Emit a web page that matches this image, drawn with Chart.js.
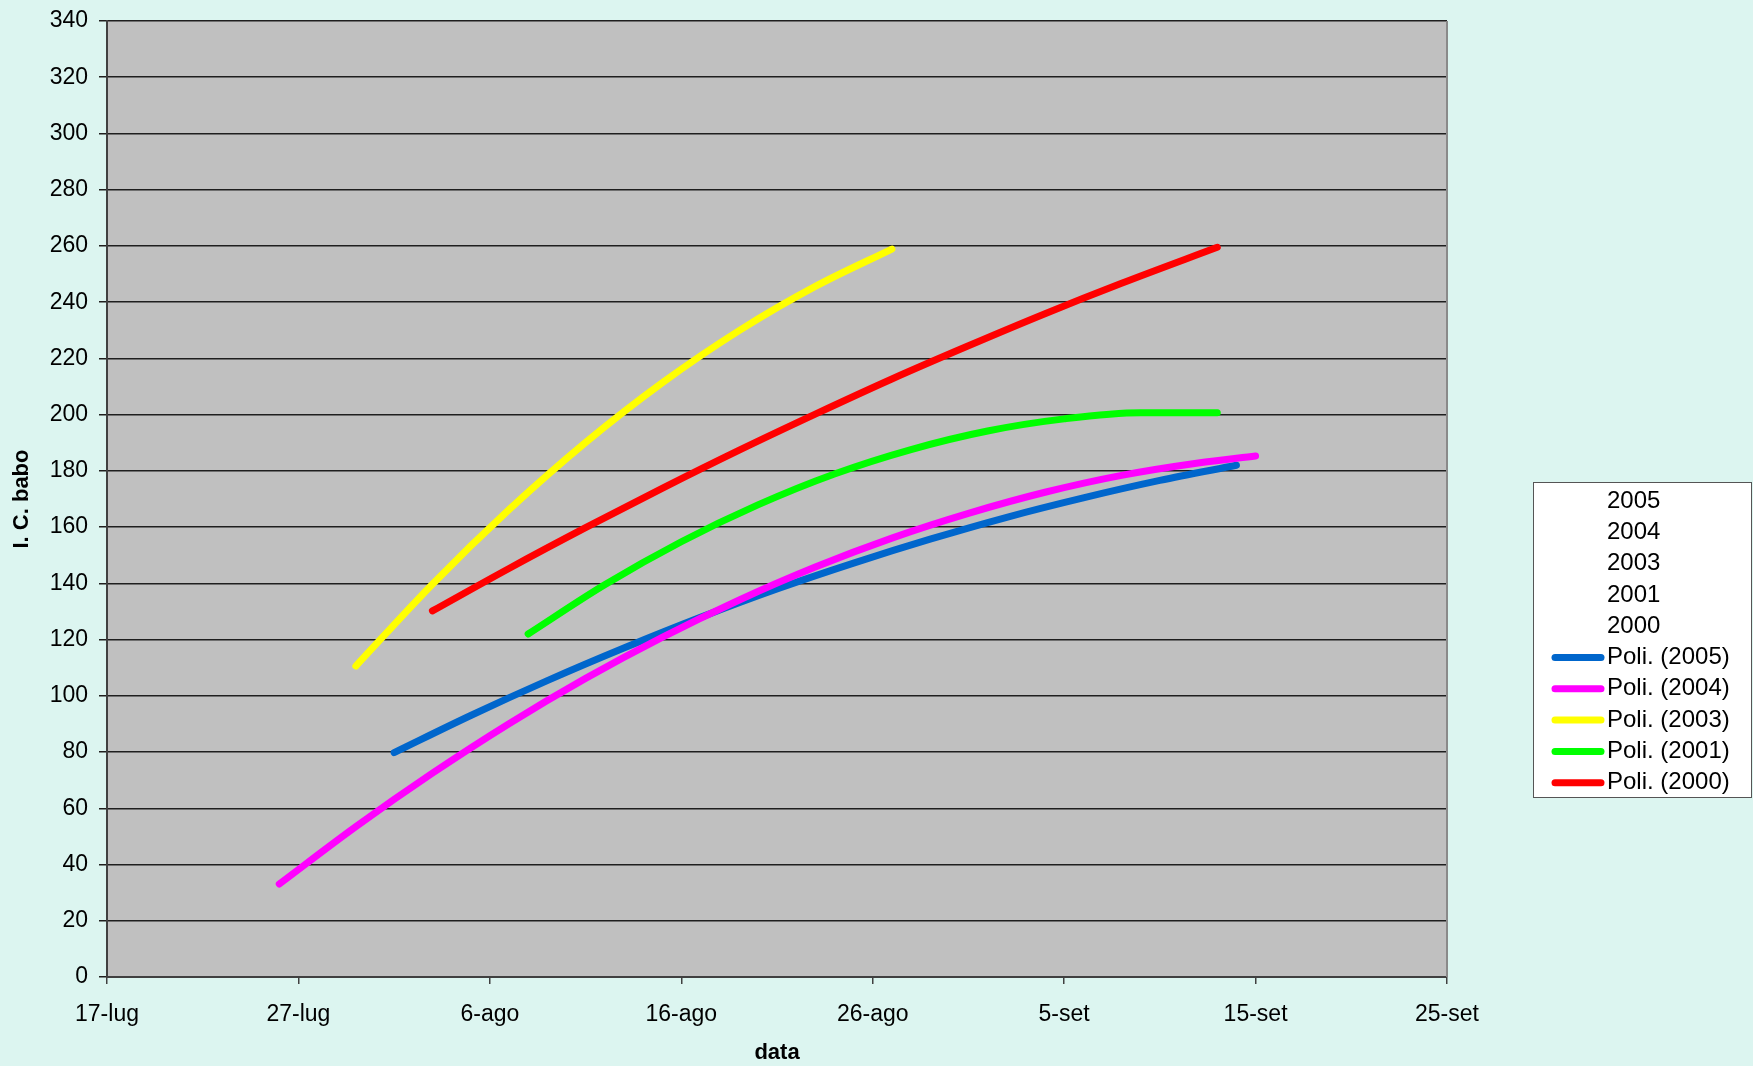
<!DOCTYPE html>
<html lang="it">
<head>
<meta charset="utf-8">
<title>I. C. babo</title>
<script src="https://cdn.jsdelivr.net/npm/chart.js@4/dist/chart.umd.min.js"></script>
<style>
  html, body { margin: 0; padding: 0; background: #DCF5F0; }
  #wrap { width: 1753px; height: 1066px; position: relative; }
  canvas { display: block; }
</style>
</head>
<body>
<div id="wrap"><canvas id="c" width="1753" height="1066"></canvas></div>
<script>
// X axis: days counted from 17 July; labels every 10 days
const dateTicks = ['17-lug', '27-lug', '6-ago', '16-ago', '26-ago', '5-set', '15-set', '25-set'];
const years = ['2005', '2004', '2003', '2001', '2000'];

// Polynomial trend curves (days from 17-lug, I. C. babo value)
const days2005 = [15, 19, 23, 27, 31, 35, 39, 43, 47, 51, 55, 59];
const vals2005 = [79.8, 93.0, 105.4, 117.0, 127.9, 138.0, 147.2, 155.7, 163.5, 170.4, 176.6, 182.0];

const days2004 = [9, 13, 17, 21, 25, 29, 33, 37, 41, 45, 49, 53, 57, 60];
const vals2004 = [33.1, 53.5, 72.5, 90.1, 106.2, 120.8, 134.0, 145.8, 156.1, 164.9, 172.4, 178.4, 182.8, 185.3];

const days2003 = [13, 17, 21, 25, 29, 33, 37, 41];
const vals2003 = [110.6, 139.7, 166.2, 190.1, 211.3, 229.8, 245.6, 258.9];

const days2001 = [22, 26, 30, 34, 38, 42, 46, 50, 54, 58];
const vals2001 = [122.0, 139.5, 154.8, 167.9, 178.9, 187.6, 194.2, 198.5, 200.7, 200.7];

const days2000 = [17, 21, 25, 29, 33, 37, 41, 45, 49, 53, 58];
const vals2000 = [130.2, 145.3, 159.8, 173.8, 187.3, 200.2, 212.7, 224.5, 235.9, 246.7, 259.5];

const colors = ['#0066CC', '#FF00FF', '#FFFF00', '#00FF00', '#FF0000'];
const seriesDays = [days2005, days2004, days2003, days2001, days2000];
const seriesVals = [vals2005, vals2004, vals2003, vals2001, vals2000];

const FONT = '"Liberation Sans", Arial, sans-serif';

const datasets = years.map((y, i) => ({
  label: 'Poli. (' + y + ')',
  data: seriesDays[i].map((d, k) => ({ x: d, y: seriesVals[i][k] })),
  borderColor: colors[i],
  backgroundColor: colors[i],
  borderWidth: 7,
  borderCapStyle: 'round',
  borderJoinStyle: 'round',
  pointRadius: 0,
  pointHoverRadius: 0,
  fill: false,
  cubicInterpolationMode: 'monotone',
  order: 5 - i
}));

// Page background and grey plot area
const backdrop = {
  id: 'backdrop',
  beforeDraw(chart) {
    const { ctx, chartArea: a } = chart;
    ctx.save();
    ctx.fillStyle = '#DCF5F0';
    ctx.fillRect(0, 0, chart.width, chart.height);
    ctx.fillStyle = '#C0C0C0';
    ctx.fillRect(a.left, a.top, a.right - a.left, a.bottom - a.top);
    ctx.restore();
  },
  afterDatasetsDraw(chart) {
    const { ctx, chartArea: a } = chart;
    ctx.save();
    ctx.strokeStyle = '#8A8A8A';
    ctx.lineWidth = 2;
    ctx.beginPath();
    ctx.moveTo(a.right, a.top);
    ctx.lineTo(a.right, a.bottom);
    ctx.stroke();
    ctx.restore();
  }
};

// Boxed legend on the right: data series names, then the trend lines
const boxLegend = {
  id: 'boxLegend',
  afterDraw(chart) {
    const ctx = chart.ctx;
    const x0 = 1533, y0 = 482, w = 219, h = 316;
    ctx.save();
    ctx.fillStyle = '#FFFFFF';
    ctx.fillRect(x0, y0, w, h);
    ctx.strokeStyle = '#555555';
    ctx.lineWidth = 1;
    ctx.strokeRect(x0 + 0.5, y0 + 0.5, w - 1, h - 1);
    ctx.font = '24px ' + FONT;
    ctx.fillStyle = '#000000';
    ctx.textBaseline = 'middle';
    ctx.textAlign = 'left';
    const step = 31.3;
    let y = y0 + 19;
    years.forEach(lbl => {
      ctx.fillText(lbl, 1607, y);
      y += step;
    });
    chart.data.datasets.forEach(ds => {
      ctx.strokeStyle = ds.borderColor;
      ctx.lineWidth = 7;
      ctx.lineCap = 'round';
      ctx.beginPath();
      ctx.moveTo(1555, y);
      ctx.lineTo(1601, y);
      ctx.stroke();
      ctx.fillText(ds.label, 1607, y);
      y += step;
    });
    ctx.restore();
  }
};

new Chart(document.getElementById('c'), {
  type: 'line',
  data: { datasets },
  plugins: [backdrop, boxLegend],
  options: {
    responsive: false,
    animation: false,
    events: [],
    layout: { padding: { left: 0, top: 21, right: 306, bottom: 0 } },
    plugins: { legend: { display: false }, tooltip: { enabled: false } },
    scales: {
      x: {
        type: 'linear',
        min: 0,
        max: 70,
        afterFit(scale) { scale.height = 89; },
        afterBuildTicks(scale) {
          scale.ticks = dateTicks.map((_, i) => ({ value: i * 10 }));
        },
        ticks: {
          autoSkip: false,
          maxRotation: 0,
          padding: 17,
          color: '#000000',
          font: { family: FONT, size: 23 },
          callback: (v) => dateTicks[Math.round(v / 10)]
        },
        grid: { drawOnChartArea: false, drawTicks: true, tickLength: 7, color: '#404040', lineWidth: 1.5 },
        border: { display: true, color: '#404040', width: 2 },
        title: {
          display: true,
          text: 'data',
          color: '#000000',
          font: { family: FONT, size: 22, weight: 'bold' },
          padding: { top: 6, bottom: 0 }
        }
      },
      y: {
        min: 0,
        max: 340,
        afterFit(scale) {
          scale.width = 107;
          scale.paddingTop = 0;
          scale.paddingBottom = 0;
        },
        ticks: {
          stepSize: 20,
          padding: 11,
          color: '#000000',
          font: { family: FONT, size: 23 }
        },
        grid: { drawOnChartArea: true, drawTicks: true, tickLength: 8, color: '#1E1E1E', lineWidth: 1.5 },
        border: { display: true, color: '#404040', width: 2 },
        title: {
          display: true,
          text: 'I. C. babo',
          color: '#000000',
          font: { family: FONT, size: 22, weight: 'bold' },
          padding: { top: 9, bottom: 0 }
        }
      }
    }
  }
});
</script>
</body>
</html>
